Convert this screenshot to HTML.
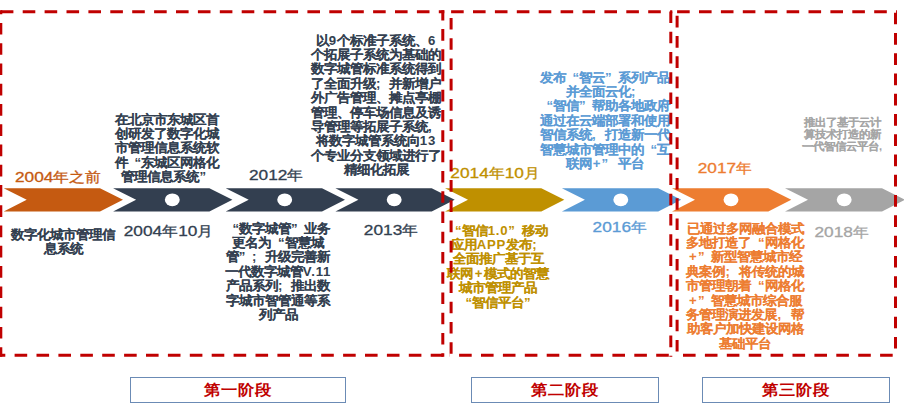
<!DOCTYPE html>
<html><head><meta charset="utf-8">
<style>
html,body{margin:0;padding:0;background:#fff;}
body{width:904px;height:412px;position:relative;overflow:hidden;font-family:"Liberation Sans",sans-serif;}
.t{position:absolute;white-space:nowrap;transform:scaleY(0.92);transform-origin:0 0;}
.yr{font-size:17.3px;line-height:19px;-webkit-text-stroke:0.35px currentColor;transform:scaleY(0.89);}
.d{font-weight:bold;-webkit-text-stroke:0.04px currentColor;font-size:13.2px;line-height:14.95px;text-align:center;transform:scaleY(0.96);}
.ql,.qr{display:inline-block;width:1em;font-style:normal;}
.ql{text-align:right;}
.qr{text-align:left;}
svg{position:absolute;left:0;top:0;}
.stage{position:absolute;top:377.2px;height:25.6px;border:1px solid #6B8BB5;box-sizing:border-box;}
.stage span{position:absolute;left:0;right:0;top:2.8px;text-align:center;color:#C00000;font-size:16.5px;line-height:18px;font-weight:bold;transform:scaleY(0.92);transform-origin:50% 0;}
.c{font-size:15.4px;letter-spacing:1px;}
.a{letter-spacing:0.8px;}
.p{padding:0 1.2px;}
</style></head><body>
<svg width="904" height="412" style="z-index:0">
 <g>
  <polygon fill="#C55A11" points="3.7,188.2 100,188.2 123,199.85 100,211.45 3.7,211.45 26.7,199.85"/>
  <polygon fill="#333F50" points="113.1,188.2 209.4,188.2 232.4,199.85 209.4,211.45 113.1,211.45 136.1,199.85"/>
  <polygon fill="#333F50" points="225.7,188.2 322,188.2 345,199.85 322,211.45 225.7,211.45 248.7,199.85"/>
  <polygon fill="#333F50" points="335.4,188.2 431.7,188.2 454.7,199.85 431.7,211.45 335.4,211.45 358.4,199.85"/>
  <polygon fill="#BF9000" points="445,188.2 541.3,188.2 564.3,199.85 541.3,211.45 445,211.45 468,199.85"/>
  <polygon fill="#5B9BD5" points="561.9,188.2 658.2,188.2 681.2,199.85 658.2,211.45 561.9,211.45 584.9,199.85"/>
  <polygon fill="#ED7D31" points="672,188.2 768.3,188.2 791.3,199.85 768.3,211.45 672,211.45 695,199.85"/>
  <polygon fill="#A5A5A5" points="785,188.2 882,188.2 905,199.85 882,211.45 785,211.45 808,199.85"/>
  <ellipse fill="#fff" cx="172.3" cy="199.8" rx="7.45" ry="6.35"/>
  <ellipse fill="#fff" cx="284.7" cy="199.8" rx="7.45" ry="6.35"/>
  <ellipse fill="#fff" cx="394.2" cy="199.8" rx="7.45" ry="6.35"/>
  <ellipse fill="#fff" cx="620.8" cy="199.8" rx="7.45" ry="6.35"/>
  <ellipse fill="#fff" cx="731" cy="199.8" rx="7.45" ry="6.35"/>
  <ellipse fill="#fff" cx="844.2" cy="199.8" rx="7.45" ry="6.35"/>
 </g>
</svg>

<div class="t yr" style="left:15px;top:168.8px;color:#C55A11">2004<span class="c">年之前</span></div>
<div class="t d" style="left:3px;width:120px;top:228.2px;color:#333F50">数字化城市管理信<br>息系统</div>
<div class="t d" style="left:107px;width:120px;top:113.2px;color:#333F50">在北京市东城区首<br>创研发了数字化城<br>市管理信息系统软<br>件<i class="ql">“</i>东城区网格化<br>管理信息系统<i class="qr">”</i></div>
<div class="t yr" style="left:123.7px;top:222.8px;color:#333F50">2004<span class="c">年</span>10<span class="c">月</span></div>
<div class="t yr" style="left:249px;top:166.8px;color:#333F50">2012<span class="c">年</span></div>
<div class="t d" style="left:208px;width:140px;top:222.2px;color:#333F50"><i class="ql">“</i>数字城管<i class="qr">”</i>业务<br>更名为<i class="ql">“</i>智慧城<br>管<i class="qr">”</i><i class="qr">;</i>升级完善新<br>一代数字城管<b class="a">V.11</b><br>产品系列<i class="qr">;</i>推出数<br>字城市智管通等系<br>列产品</div>
<div class="t d" style="left:301px;width:150px;top:34.2px;color:#333F50">以<b class="a">9</b>个标准子系统、<b class="a">6</b><br>个拓展子系统为基础的<br>数字城管标准系统得到<br>了全面升级<i class="qr">;</i>并新增户<br>外广告管理、摊点亭棚<br>管理、停车场信息及诱<br>导管理等拓展子系统<i class="qr">,</i><br>将数字城管系统向<b class="a">13</b><br>个专业分支领域进行了<br>精细化拓展</div>
<div class="t yr" style="left:363.8px;top:221.8px;color:#333F50">2013<span class="c">年</span></div>
<div class="t yr" style="left:450.3px;top:164.8px;color:#BF9000">2014<span class="c">年</span>10<span class="c">月</span></div>
<div class="t d" style="left:428px;width:140px;top:224.2px;color:#BF9000"><i class="ql">“</i>智信<b class="a">1.0</b><i class="qr">”</i>移动<br>应用<b class="a">APP</b>发布<i class="qr">;</i><br>全面推广基于互<br>联网<b class="p">+</b>模式的智慧<br>城市管理产品<br><i class="ql">“</i>智信平台<i class="qr">”</i></div>
<div class="t d" style="left:530px;width:150px;top:71.2px;color:#5B9BD5">发布<i class="ql">“</i>智云<i class="qr">”</i>系列产品<br>并全面云化<i class="qr">;</i><br><i class="ql">“</i>智信<i class="qr">”</i>帮助各地政府<br>通过在云端部署和使用<br>智信系统<i class="qr">,</i>打造新一代<br>智慧城市管理中的<i class="ql">“</i>互<br>联网<b class="p">+</b><i class="qr">”</i> 平台</div>
<div class="t yr" style="left:592.6px;top:218.8px;color:#5B9BD5">2016<span class="c">年</span></div>
<div class="t yr" style="left:697.7px;top:159.8px;color:#ED7D31">2017<span class="c">年</span></div>
<div class="t d" style="left:675px;width:140px;top:222.2px;color:#ED7D31">已通过多网融合模式<br>多地打造了<i class="ql">“</i>网格化<br><b class="p">+</b><i class="qr">”</i>新型智慧城市经<br>典案例<i class="qr">;</i>将传统的城<br>市管理朝着<i class="ql">“</i>网格化<br><b class="p">+</b><i class="qr">”</i>智慧城市综合服<br>务管理演进发展<i class="qr">,</i>帮<br>助客户加快建设网格<br>基础平台</div>
<div class="t d" style="left:790px;width:104px;top:116px;color:#A5A5A5;font-size:11.15px;line-height:12.6px">推出了基于云计<br>算技术打造的新<br>一代智信云平台,</div>
<div class="t yr" style="left:814.5px;top:223.8px;color:#A5A5A5">2018<span class="c">年</span></div>

<div class="stage" style="left:130px;width:216px"><span>第一阶段</span></div>
<div class="stage" style="left:471px;width:188px"><span>第二阶段</span></div>
<div class="stage" style="left:702px;width:188px"><span>第三阶段</span></div>

<svg width="904" height="412" style="z-index:5">
 <g fill="none" stroke="#C00000" stroke-width="3">
  <line x1="-0.7" y1="11.85" x2="444.3" y2="11.85" stroke-dasharray="12.6 9.30" stroke-dashoffset="20.40"/>
  <line x1="-0.7" y1="355.3" x2="444.3" y2="355.3" stroke-dasharray="12.6 9.30" stroke-dashoffset="6.60"/>
  <line x1="442.8" y1="10.35" x2="442.8" y2="356.8" stroke-dasharray="11.6 8.66" stroke-dashoffset="1.55"/>
  <line x1="0.8" y1="10.35" x2="0.8" y2="356.8" stroke-dasharray="11.6 8.66" stroke-dashoffset="7.61"/>
  <line x1="449.6" y1="11.85" x2="672.3" y2="11.85" stroke-dasharray="12.6 9.30" stroke-dashoffset="20.40"/>
  <line x1="449.6" y1="355.3" x2="672.3" y2="355.3" stroke-dasharray="12.6 9.30" stroke-dashoffset="12.40"/>
  <line x1="670.8" y1="10.35" x2="670.8" y2="356.8" stroke-dasharray="11.6 8.66" stroke-dashoffset="19.21"/>
  <line x1="451.1" y1="10.35" x2="451.1" y2="356.8" stroke-dasharray="11.6 8.66" stroke-dashoffset="12.61"/>
  <line x1="675.6" y1="11.85" x2="897" y2="11.85" stroke-dasharray="12.6 9.30" stroke-dashoffset="20.40"/>
  <line x1="675.6" y1="355.3" x2="897" y2="355.3" stroke-dasharray="12.6 9.30" stroke-dashoffset="14.50"/>
  <line x1="895.5" y1="10.35" x2="895.5" y2="356.8" stroke-dasharray="11.6 8.66" stroke-dashoffset="17.84"/>
  <line x1="677.1" y1="10.35" x2="677.1" y2="356.8" stroke-dasharray="11.6 8.66" stroke-dashoffset="14.81"/>
 </g>
</svg>
</body></html>
